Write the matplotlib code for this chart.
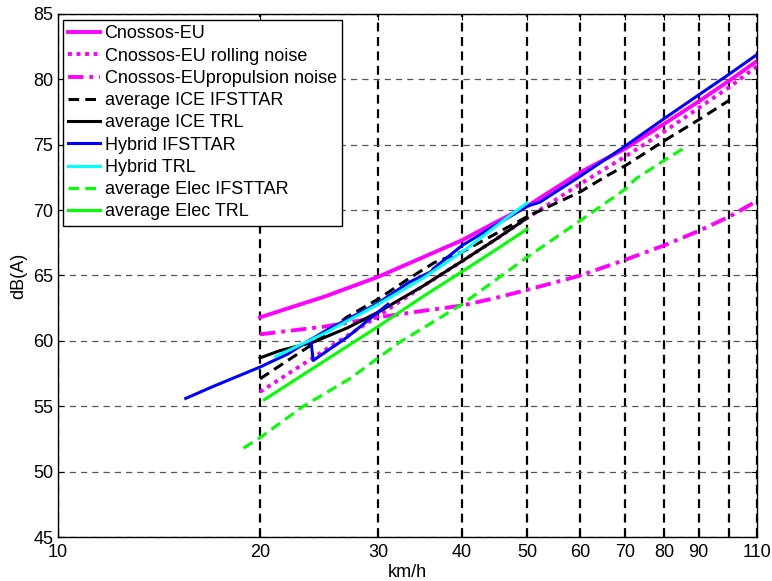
import numpy as np
import matplotlib.pyplot as plt

plt.rcParams['font.family'] = ['Liberation Sans', 'DejaVu Sans']

# speeds (km/h) and levels dB(A)
v_cn = [20, 25, 30, 35, 40, 45, 50, 60, 70, 80, 90, 100, 110]
cn_total = [61.8, 63.4, 64.9, 66.4, 67.7, 69.1, 70.3, 72.9, 74.7, 76.6, 78.3, 79.9, 81.4]
cn_roll = [56.1, 59.3, 61.9, 64.2, 66.1, 67.8, 69.4, 72.0, 74.1, 76.0, 77.8, 79.4, 81.0]
cn_prop = [60.5, 61.1, 61.8, 62.3, 62.7, 63.3, 63.9, 65.0, 66.2, 67.3, 68.4, 69.5, 70.7]

v_ice_if = [20, 23.7, 26.9, 30, 33.4, 36.4, 40, 50, 60, 65.6, 70, 80, 90, 100]
ice_if = [57.1, 59.6, 61.8, 63.2, 64.8, 66.0, 66.8, 69.5, 71.4, 72.6, 73.4, 75.3, 76.9, 78.4]

v_ice_trl = [20, 21.4, 24, 27, 30, 35, 40, 45, 50]
ice_trl = [58.7, 59.25, 59.9, 61.0, 62.2, 64.2, 66.1, 67.8, 69.4]

# Hybrid IFSTTAR: low-speed branch with drop, then main branch
v_hyb_if = [15.5, 17, 20, 22, 23.8, 24.0, 27, 31, np.nan,
            23.8, 25.1, 30, 33.4, 36.0, 36.2, 40, 50, 52.2, 60, 70, 80, 90, 100, 110]
hyb_if = [55.6, 56.5, 58.0, 59.0, 60.1, 58.5, 60.3, 62.8, np.nan,
          60.1, 60.8, 62.9, 64.5, 65.3, 65.5, 67.3, 70.3, 70.6, 72.6, 74.9, 77.0, 78.8, 80.4, 81.9]

v_hyb_trl = [21.1, 25, 30, 35, 40.5, 45, 50]
hyb_trl = [58.8, 60.6, 62.8, 64.8, 67.0, 68.8, 70.55]

v_el_if = [18.9, 20, 23.2, 27.2, 32.3, 40, 50, 60, 70, 72.6, 80, 86.6]
el_if = [51.8, 52.6, 55.0, 57.1, 59.9, 62.8, 66.4, 69.2, 71.6, 72.4, 73.8, 74.9]

v_el_trl = [20.3, 25, 30, 35, 40, 45, 50]
el_trl = [55.5, 58.5, 61.1, 63.4, 65.3, 67.0, 68.55]

xticks = [10, 20, 30, 40, 50, 60, 70, 80, 90, 100, 110]
xtick_labels = ['10', '20', '30', '40', '50', '60', '70', '80', '90', '', '110']

fig = plt.figure(figsize=(7.72, 5.81), dpi=100)
ax = fig.add_axes([58 / 772, 1 - 537 / 581, (757 - 58) / 772, (537 - 14) / 581])

lw = 2.2
ax.plot(v_cn, cn_total, color='#ff00ff', lw=2.8, label='Cnossos-EU')
ax.plot(v_cn, cn_roll, color='#ff00ff', lw=2.8, ls=(0, (1, 1.2)), label='Cnossos-EU rolling noise')
ax.plot(v_cn, cn_prop, color='#ff00ff', lw=2.8, ls=(0, (4, 1.5, 1, 1.5)), label='Cnossos-EUpropulsion noise')
ax.plot(v_ice_if, ice_if, color='k', lw=lw, ls=(0, (3.5, 2)), label='average ICE IFSTTAR')
ax.plot(v_ice_trl, ice_trl, color='k', lw=lw, label='average ICE TRL')
ax.plot(v_hyb_if, hyb_if, color='#0000ff', lw=lw, label='Hybrid IFSTTAR')
ax.plot(v_hyb_trl, hyb_trl, color='#00ffff', lw=lw, label='Hybrid TRL')
ax.plot(v_el_if, el_if, color='#00ff00', lw=lw, ls=(0, (3.5, 2)), label='average Elec IFSTTAR')
ax.plot(v_el_trl, el_trl, color='#00ff00', lw=lw, label='average Elec TRL')

ax.set_xscale('log')
ax.set_xlim(10, 110)
ax.set_ylim(45, 85)
ax.set_xticks(xticks)
ax.set_xticklabels(xtick_labels)
ax.xaxis.set_minor_locator(plt.NullLocator())
ax.set_yticks(np.arange(45, 86, 5))

ax.xaxis.grid(True, color='k', ls=(0, (4, 2.5)), lw=1.6)
ax.yaxis.grid(True, color='#555555', ls=(0, (5, 4)), lw=0.9)
ax.set_axisbelow('line')

ax.tick_params(direction='in', top=True, right=True, length=4, labelsize=13)
ax.tick_params(axis='x', pad=5)
for s in ax.spines.values():
    s.set_linewidth(1.0)

ax.set_xlabel('km/h', fontsize=13, labelpad=2)
ax.set_ylabel('dB(A)', fontsize=13, labelpad=4)

leg = ax.legend(loc='upper left', bbox_to_anchor=(63 / 772, 1 - 20 / 581),
                bbox_transform=fig.transFigure, borderaxespad=0, fontsize=13,
                fancybox=False, framealpha=1, edgecolor='k', handlelength=1.75,
                handletextpad=0.25, labelspacing=0.29, borderpad=0.3)
leg.get_frame().set_linewidth(1.0)

fig.savefig('out.png', dpi=100)
